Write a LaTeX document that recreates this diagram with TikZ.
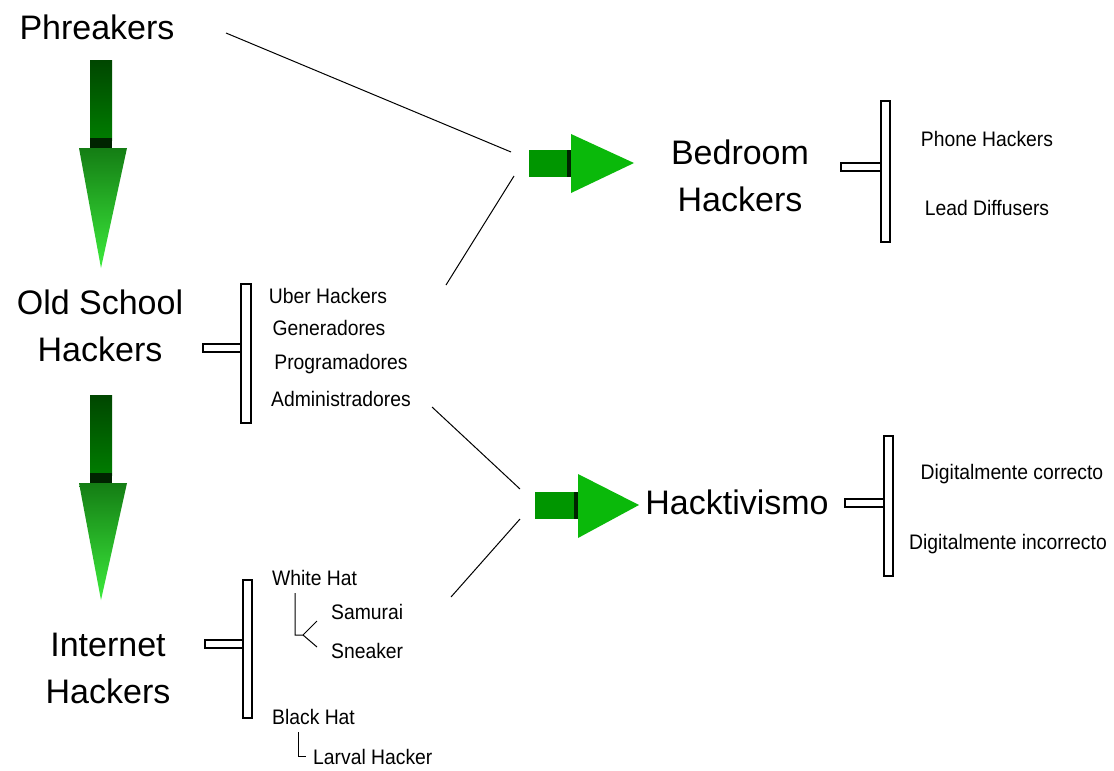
\documentclass[tikz,border=0pt]{standalone}
\usepackage{fontspec}
\setmainfont{Liberation Sans}
\newfontfamily\narrowfont[FakeStretch=0.92]{Liberation Sans}
\definecolor{shaftA}{RGB}{0,70,0}
\definecolor{shaftB}{RGB}{0,125,0}
\definecolor{band}{RGB}{0,35,0}
\definecolor{headA}{RGB}{20,125,20}
\definecolor{headB}{RGB}{60,235,60}
\definecolor{rshaft}{RGB}{0,150,0}
\definecolor{rhead}{RGB}{10,185,10}
\begin{document}
\begin{tikzpicture}[x=1pt,y=-1pt,
  big/.style={font=\fontsize{34}{47}\selectfont, align=center, inner sep=0pt},
  small/.style={font=\narrowfont\fontsize{21}{24}\selectfont, inner sep=0pt},
  brk/.style={draw=black, line width=1.5pt, fill=white},
  con/.style={draw=black, line width=1pt},
  tree/.style={draw=black, line width=1pt},
]
\useasboundingbox[fill=white] (0,0) rectangle (1114,771);

% ---- main labels
\node[big] (phr) at (97,27) {Phreakers};
\node[big] (old) at (100,326) {Old School\\Hackers};
\node[big] (inet) at (108,668) {Internet\\Hackers};
\node[big] (bed) at (740,176) {Bedroom\\Hackers};
\node[big] (hack) at (737,502) {Hacktivismo};

% ---- down arrows
\foreach \t/\b in {60/268, 395/600}{
  \shade[top color=shaftA, bottom color=shaftB] (90,\t) rectangle (112,{\t+80});
  \fill[band] (90,{\t+78}) rectangle (112,{\t+88});
  \shade[top color=headA, bottom color=headB] (79,{\t+88}) -- (127,{\t+88}) -- (101,\b) -- cycle;
}

% ---- right arrows
\fill[rshaft] (529,150) rectangle (571,177);
\fill[band] (567,150) rectangle (573,177);
\fill[rhead] (571,134) -- (634,163) -- (571,193) -- cycle;
\fill[rshaft] (535,492) rectangle (578,519);
\fill[band] (574,492) rectangle (580,519);
\fill[rhead] (578,474) -- (639,505) -- (578,538) -- cycle;

% ---- brackets
\draw[brk] (203,344) rectangle (241,352);
\draw[brk] (241,284) rectangle (251,423);
\draw[brk] (205,640) rectangle (243,648);
\draw[brk] (243,580) rectangle (252,718);
\draw[brk] (841,163) rectangle (881,171);
\draw[brk] (881,101) rectangle (890,242);
\draw[brk] (845,499) rectangle (884,507);
\draw[brk] (884,436) rectangle (893,576);

% ---- sub labels
\node[small] (uber) at (328,296) {Uber Hackers};
\node[small] (gen) at (329,328) {Generadores};
\node[small] (prog) at (341,364) {Programadores};
\node[small] (adm) at (341,399) {Administradores};

\node[small, anchor=west] (white) at (272,578) {White Hat};
\node[small, anchor=west] (sam) at (331,612) {Samurai};
\node[small, anchor=west] (snk) at (331,651) {Sneaker};
\node[small, anchor=west] (black) at (272,717) {Black Hat};
\node[small, anchor=west] (larv) at (313,757) {Larval Hacker};

\node[small] (phone) at (987,139) {Phone Hackers};
\node[small] (lead) at (987,208) {Lead Diffusers};
\node[small] (dc) at (1012,474) {Digitalmente correcto};
\node[small] (di) at (1008,544) {Digitalmente incorrecto};

% ---- trees
\coordinate (wt1) at (295,593);
\coordinate (wt2) at (295,635);
\coordinate (wt3) at (303,635);
\coordinate (wt4) at (317,621);
\coordinate (wt5) at (317,647);
\draw[tree] (wt1) -- (wt2) -- (wt3) -- (wt4);
\draw[tree] (wt3) -- (wt5);
\coordinate (bt1) at (298,732);
\coordinate (bt2) at (298,756);
\coordinate (bt3) at (306,756);
\draw[tree] (bt1) -- (bt2) -- (bt3);

% ---- connectors
\coordinate (c1a) at (226,33);   \coordinate (c1b) at (511,152);
\coordinate (c2a) at (446,285);  \coordinate (c2b) at (514,176);
\coordinate (c3a) at (432,407);  \coordinate (c3b) at (520,489);
\coordinate (c4a) at (451,597);  \coordinate (c4b) at (520,519);
\draw[con] (c1a) -- (c1b);
\draw[con] (c2a) -- (c2b);
\draw[con] (c3a) -- (c3b);
\draw[con] (c4a) -- (c4b);
\end{tikzpicture}
\end{document}
